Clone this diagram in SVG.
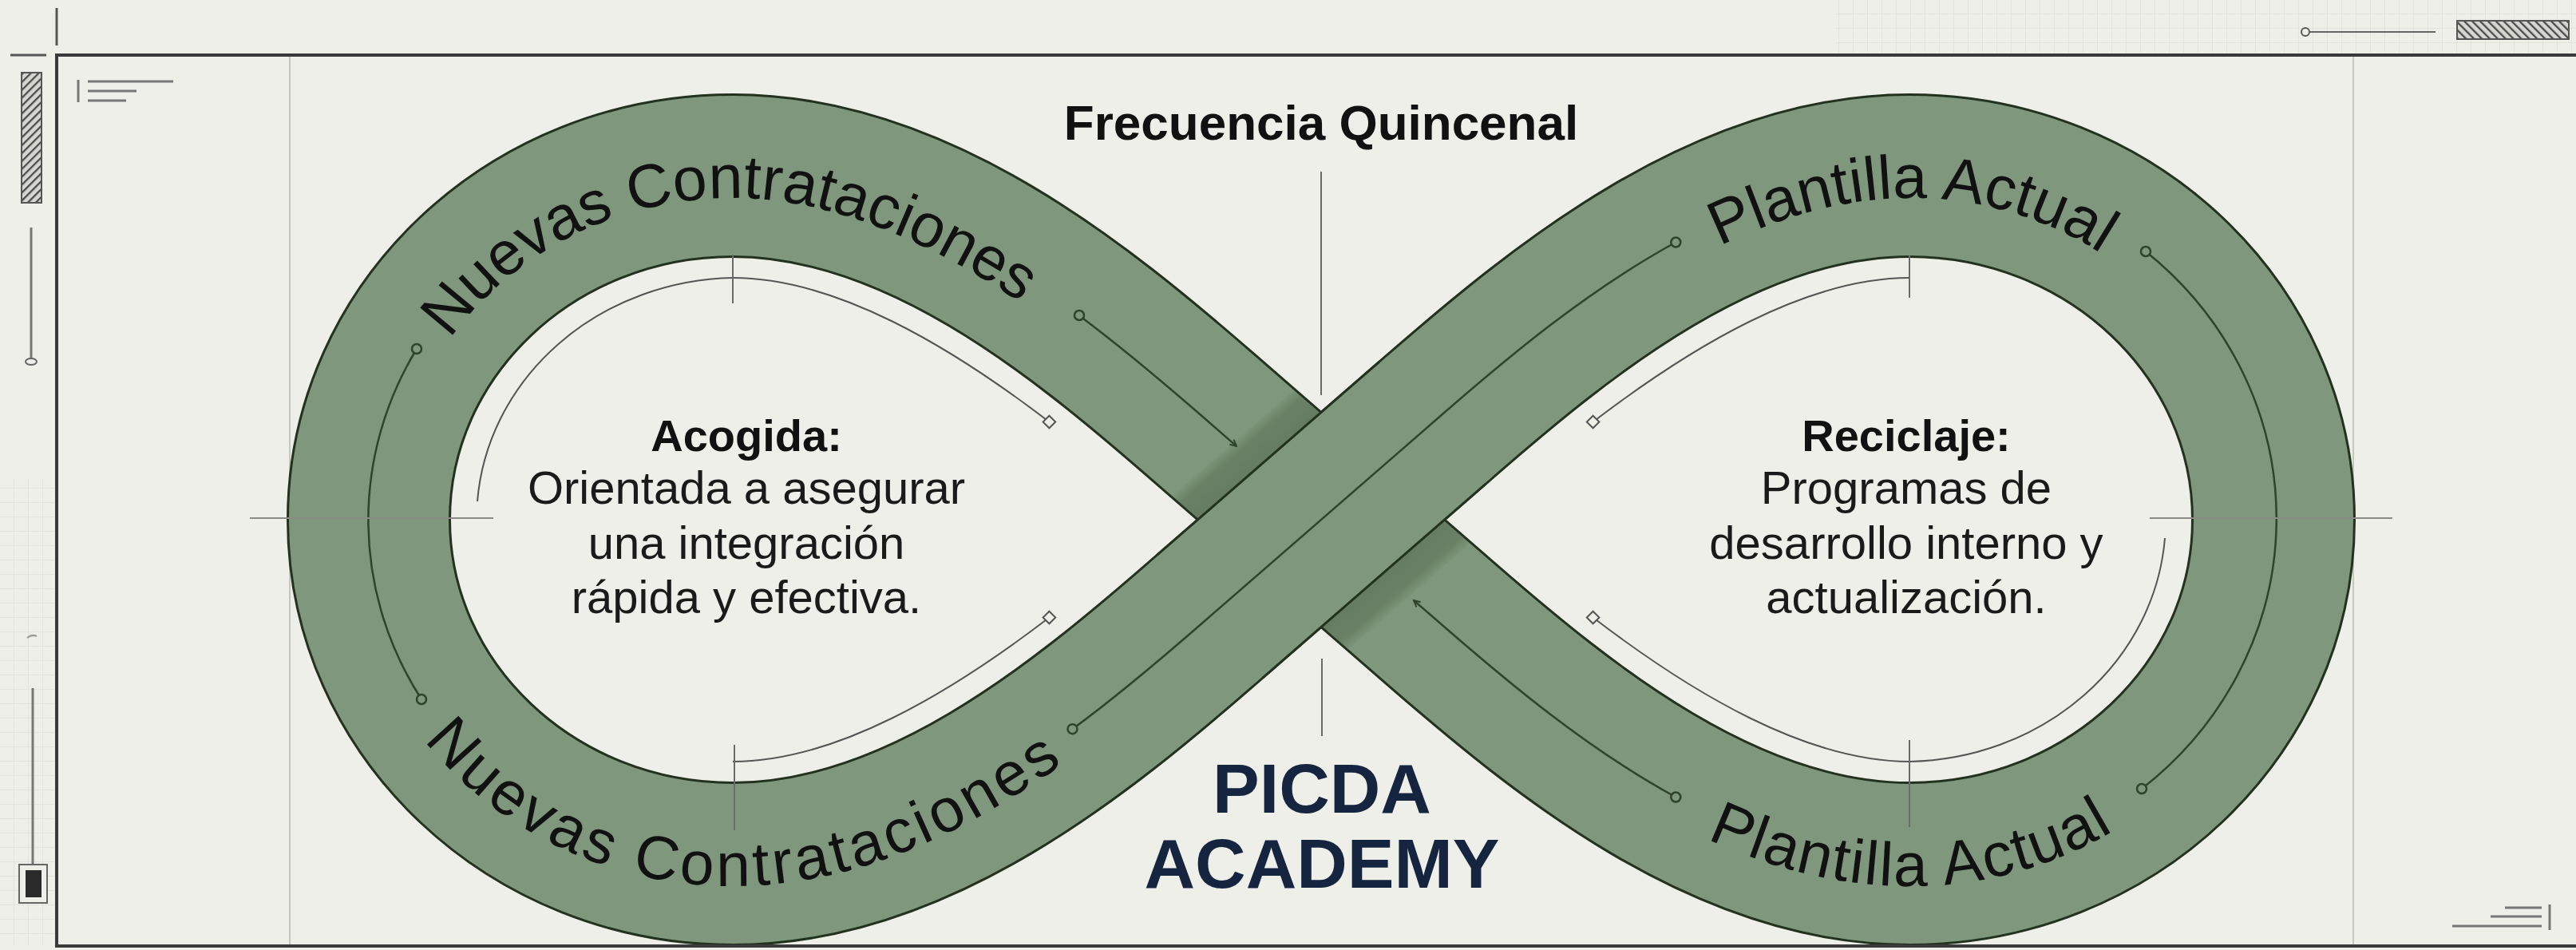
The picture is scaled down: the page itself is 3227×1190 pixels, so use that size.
<svg xmlns="http://www.w3.org/2000/svg" width="3227" height="1190" viewBox="0 0 3227 1190">
<defs>
<style>
.frame{stroke:#3a3a3a;stroke-width:4;fill:none}
.guide{stroke:#c6c6c0;stroke-width:2;fill:none}
.hguide{stroke:#8a8a86;stroke-width:2;fill:none}
.tick{stroke:#6a6a6a;stroke-width:2;fill:none}
.edge{fill:none;stroke:#23321f;stroke-width:206;stroke-linejoin:round}
.band{fill:none;stroke:#7f977c;stroke-width:200;stroke-linejoin:round}
.bline{fill:none;stroke:#2f432d;stroke-width:2.5}
.hline{fill:none;stroke:#555;stroke-width:2}
.dot{fill:#7f977c;stroke:#2f432d;stroke-width:2.5}
.dia{fill:#efefea;stroke:#555;stroke-width:2}
.deco{stroke:#777;stroke-width:3;fill:none}
.lbl{font-family:"Liberation Sans",Arial,sans-serif;font-size:77px;fill:#111}
.lblb{font-family:"Liberation Sans",Arial,sans-serif;font-size:77px;fill:#111;letter-spacing:4.5px}
.lblc{font-family:"Liberation Sans",Arial,sans-serif;font-size:77px;fill:#111;letter-spacing:2px}
.head{font-family:"Liberation Sans",Arial,sans-serif;font-weight:700;fill:#111;text-anchor:middle}
.body{font-family:"Liberation Sans",Arial,sans-serif;font-size:58px;fill:#1a1a1a;text-anchor:middle}
.brand{font-family:"Liberation Sans",Arial,sans-serif;font-weight:700;font-size:88px;fill:#15243f;text-anchor:middle}
</style>
<pattern id="grid" width="18" height="18" patternUnits="userSpaceOnUse"><path d="M18 0V18H0" fill="none" stroke="#d9d9d3" stroke-width="1"/></pattern>
<pattern id="hatchA" width="7" height="7" patternUnits="userSpaceOnUse" patternTransform="rotate(45)"><rect width="7" height="7" fill="#d6d6d0"/><line x1="1" y1="0" x2="1" y2="7" stroke="#4a4a4a" stroke-width="2.5"/></pattern>
<pattern id="hatchB" width="7" height="7" patternUnits="userSpaceOnUse" patternTransform="rotate(-45)"><rect width="7" height="7" fill="#d6d6d0"/><line x1="1" y1="0" x2="1" y2="7" stroke="#4a4a4a" stroke-width="2.5"/></pattern>
<linearGradient id="sh1" gradientUnits="userSpaceOnUse" x1="1589.4" y1="575.5" x2="1559.9" y2="541.6">
<stop offset="0" stop-color="#34472f" stop-opacity="0.34"/><stop offset="0.7" stop-color="#34472f" stop-opacity="0.28"/><stop offset="1" stop-color="#34472f" stop-opacity="0.04"/>
</linearGradient>
<linearGradient id="sh2" gradientUnits="userSpaceOnUse" x1="1720.6" y1="726.5" x2="1750.1" y2="760.4">
<stop offset="0" stop-color="#34472f" stop-opacity="0.34"/><stop offset="0.7" stop-color="#34472f" stop-opacity="0.28"/><stop offset="1" stop-color="#34472f" stop-opacity="0.04"/>
</linearGradient>
<marker id="tip" viewBox="0 0 10 10" refX="9" refY="5" markerWidth="10" markerHeight="10" markerUnits="userSpaceOnUse" orient="auto-start-reverse">
<path d="M1 1L9 5L1 9" fill="none" stroke="#2f432d" stroke-width="2"/>
</marker>
<path id="loop" d="M 1655 651 L 1504.1 519.8 C 1353.2 388.6 1148 220 918 220 C 666.3 220 462 413.1 462 651 C 462 888.9 666.3 1082 918 1082 C 1148 1082 1353.2 913.4 1504.1 782.2 L 1805.9 519.8 C 1956.8 388.6 2162 220 2392 220 C 2643.7 220 2848 413.1 2848 651 C 2848 888.9 2643.7 1082 2392 1082 C 2162 1082 1956.8 913.4 1805.9 782.2 Z"/>
<path id="tpTL" d="M 490 651 C 490 428.5 681.7 248 918 248 C 1134 248 1342.3 416.2 1485.7 540.9 L 1561 606.5"/>
<path id="tpBL" d="M 434 651 C 434 904.4 650.8 1110 918 1110 C 1162 1110 1364 941.1 1522.5 803.3 L 1598 737.7"/>
<path id="tpTR" d="M 1749 606.5 L 1824.3 540.9 C 1967.7 416.2 2176 248 2392 248 C 2628.3 248 2820 428.5 2820 651"/>
<path id="tpBR" d="M 1712 737.7 L 1787.5 803.3 C 1946 941.1 2148 1110 2392 1110 C 2659.2 1110 2876 904.4 2876 651"/>
</defs>

<rect width="3227" height="1190" fill="#efefea"/>

<g id="margins">
<rect x="2300" y="0" width="927" height="66" fill="url(#grid)"/>
<rect x="0" y="600" width="68" height="584" fill="url(#grid)"/>
<line x1="71" y1="10" x2="71" y2="57" stroke="#555" stroke-width="3"/>
<line x1="13" y1="69" x2="58" y2="69" stroke="#555" stroke-width="3"/>
<circle cx="2888" cy="40" r="5" fill="#efefea" stroke="#555" stroke-width="2"/>
<line x1="2893" y1="40" x2="3051" y2="40" stroke="#666" stroke-width="2"/>
<rect x="3078" y="26" width="140" height="23" fill="url(#hatchB)" stroke="#555" stroke-width="2"/>
<rect x="27" y="91" width="25" height="163" fill="url(#hatchA)" stroke="#555" stroke-width="2"/>
<line x1="39" y1="285" x2="39" y2="450" stroke="#777" stroke-width="3"/>
<ellipse cx="39" cy="453" rx="7" ry="4" fill="#efefea" stroke="#666" stroke-width="2"/>
<path d="M34 799 q6 -5 12 -2" fill="none" stroke="#999" stroke-width="2"/>
<line x1="41" y1="862" x2="41" y2="1083" stroke="#777" stroke-width="3"/>
<rect x="24" y="1083" width="35" height="48" fill="#efefea" stroke="#666" stroke-width="2"/>
<rect x="32" y="1090" width="20" height="34" fill="#2a2a2a"/>
</g>

<g id="guides">
<line class="guide" x1="363" y1="70" x2="363" y2="1184"/>
<line class="guide" x1="2948" y1="70" x2="2948" y2="1184"/>
</g>

<g id="infinity-band">
<use href="#loop" class="edge"/>
<use href="#loop" class="band"/>
<polygon points="1655,518.5 1620.7,488.7 1468.2,621.2 1502.6,651" fill="url(#sh1)"/>
<polygon points="1807.4,651 1655,783.5 1689.3,813.3 1841.8,680.8" fill="url(#sh2)"/>
<path d="M 1515.4 772.4 L 1794.6 529.6" fill="none" stroke="#23321f" stroke-width="206"/>
<path d="M 1505.6 780.9 L 1804.4 521.1" fill="none" stroke="#7f977c" stroke-width="200"/>
</g>

<g id="connectors">
<path class="bline" d="M 522 437 A 456 431 0 0 0 528 876"/>
<circle class="dot" cx="522" cy="437" r="6"/>
<circle class="dot" cx="528" cy="876" r="6"/>
<path class="bline" d="M 2688 315 A 462 438 0 0 1 2683 988"/>
<circle class="dot" cx="2688" cy="315" r="6"/>
<circle class="dot" cx="2683" cy="988" r="6"/>
<path class="bline" d="M 1354.5 397.2 C 1408.6 437.7 1458.8 480.4 1504.1 519.8 L 1549 558.9" marker-end="url(#tip)"/>
<circle class="dot" cx="1352" cy="395" r="6"/>
<path class="bline" d="M 1771 752 L 1805.9 782.2 C 1888.9 854.4 1988.3 937.9 2099.3 998.5" marker-start="url(#tip)"/>
<circle class="dot" cx="2099.3" cy="998.5" r="6"/>
<path class="bline" d="M 1343.5 913.2 C 1402 870.4 1455.8 824.2 1504.1 782.2 L 1805.9 519.8 C 1888.9 447.6 1988.3 364.1 2099.3 303.5"/>
<circle class="dot" cx="1343.5" cy="913.2" r="6"/>
<circle class="dot" cx="2099.3" cy="303.5" r="6"/>

<path class="hline" d="M 598 628 A 328 303 0 0 1 918 348 C 1046.6 348 1189.8 433.2 1314.4 528.5"/>
<rect class="dia" x="1308.9" y="523" width="11" height="11" transform="rotate(45 1314.4 528.5)"/>
<path class="hline" d="M 918 954 C 1046.6 954 1189.8 868.8 1314.4 773.5"/>
<rect class="dia" x="1308.9" y="768" width="11" height="11" transform="rotate(45 1314.4 773.5)"/>
<path class="hline" d="M 2392 348 C 2263.4 348 2120.2 433.2 1995.6 528.5"/>
<rect class="dia" x="1990.1" y="523" width="11" height="11" transform="rotate(45 1995.6 528.5)"/>
<path class="hline" d="M 2712 674 A 328 303 0 0 1 2392 954 C 2263.4 954 2120.2 868.8 1995.6 773.5"/>
<rect class="dia" x="1990.1" y="768" width="11" height="11" transform="rotate(45 1995.6 773.5)"/>

<line class="hguide" x1="313" y1="649" x2="618" y2="649"/>
<line class="hguide" x1="2693" y1="649" x2="2997" y2="649"/>
<line class="tick" x1="918" y1="319" x2="918" y2="380"/>
<line class="tick" x1="920" y1="933" x2="920" y2="1040"/>
<line class="tick" x1="2392" y1="320" x2="2392" y2="373"/>
<line class="tick" x1="2392" y1="927" x2="2392" y2="1036"/>
<line class="tick" x1="1655" y1="215" x2="1655" y2="495"/>
<line class="tick" x1="1656" y1="825" x2="1656" y2="922"/>
</g>

<g id="frame">
<line class="frame" x1="71" y1="69" x2="3227" y2="69"/>
<line class="frame" x1="71" y1="67" x2="71" y2="1187"/>
<line class="frame" x1="69" y1="1185" x2="3227" y2="1185"/>
<g class="deco">
<line x1="98" y1="100" x2="98" y2="128"/>
<line x1="110" y1="102" x2="217" y2="102"/>
<line x1="110" y1="114" x2="171" y2="114"/>
<line x1="110" y1="126" x2="158" y2="126"/>
<line x1="3194" y1="1133" x2="3194" y2="1165"/>
<line x1="3138" y1="1137" x2="3184" y2="1137"/>
<line x1="3120" y1="1148" x2="3184" y2="1148"/>
<line x1="3072" y1="1160" x2="3184" y2="1160"/>
</g>
</g>

<g id="band-labels">
<text class="lbl"><textPath href="#tpTL" startOffset="642" text-anchor="middle">Nuevas Contrataciones</textPath></text>
<text class="lblb"><textPath href="#tpBL" startOffset="746" text-anchor="middle">Nuevas Contrataciones</textPath></text>
<text class="lbl"><textPath href="#tpTR" startOffset="755" text-anchor="middle">Plantilla Actual</textPath></text>
<text class="lblc"><textPath href="#tpBR" startOffset="797" text-anchor="middle">Plantilla Actual</textPath></text>
</g>

<g id="title">
<text class="head" x="1655" y="175" font-size="62">Frecuencia Quincenal</text>
</g>

<g id="node-acogida">
<text class="head" x="935" y="565" font-size="56">Acogida:</text>
<text class="body" x="935" y="631">Orientada a asegurar</text>
<text class="body" x="935" y="700">una integración</text>
<text class="body" x="935" y="768">rápida y efectiva.</text>
</g>

<g id="node-reciclaje">
<text class="head" x="2388" y="565" font-size="56">Reciclaje:</text>
<text class="body" x="2388" y="631">Programas de</text>
<text class="body" x="2388" y="700">desarrollo interno y</text>
<text class="body" x="2388" y="768">actualización.</text>
</g>

<g id="brand">
<text class="brand" x="1656" y="1018">PICDA</text>
<text class="brand" x="1656" y="1112">ACADEMY</text>
</g>
</svg>
